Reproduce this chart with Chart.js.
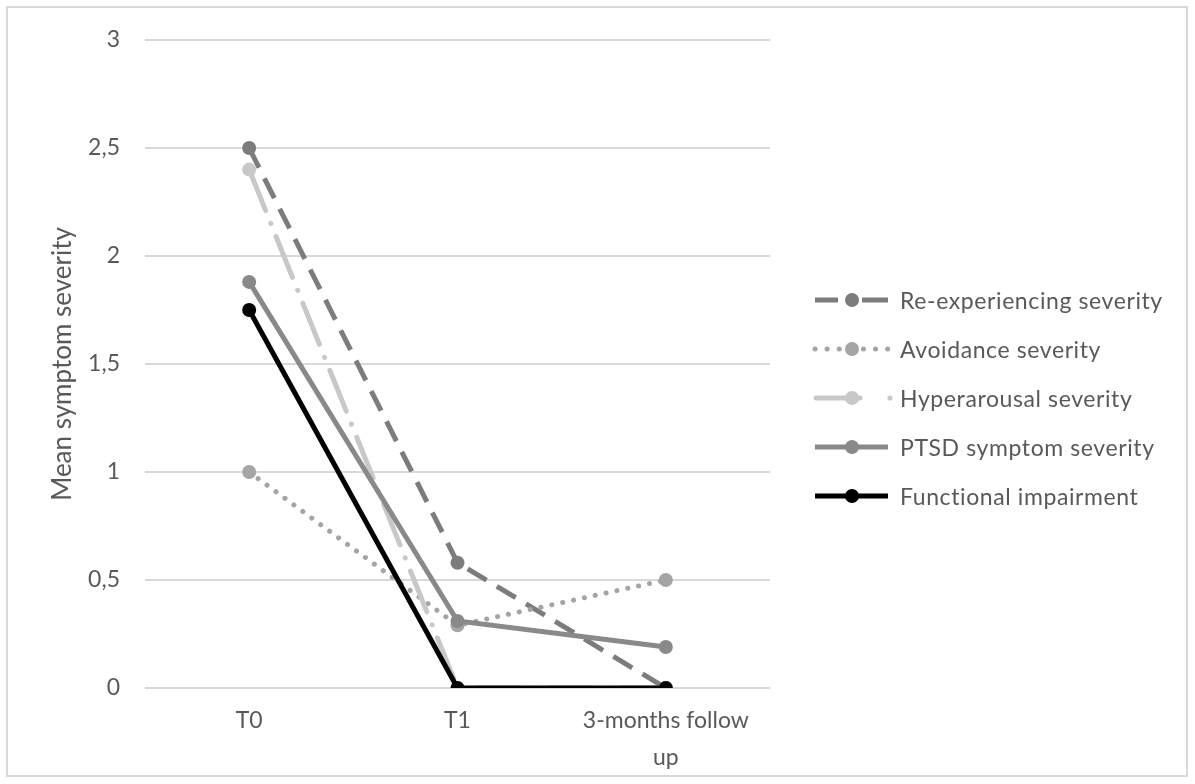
<!DOCTYPE html>
<html>
<head>
<meta charset="utf-8">
<script src="https://cdn.jsdelivr.net/npm/chart.js@4.4.1/dist/chart.umd.min.js"></script>
<style>
  html, body { margin: 0; padding: 0; background: #fff; }
  #wrap { position: relative; width: 1195px; height: 784px; }
  #frame { position: absolute; left: 6px; top: 6px; width: 1182px; height: 771px; border: 2px solid #d9d9d9; box-sizing: border-box; pointer-events: none; }
  #legend { position: absolute; left: 812px; top: 275px; font-family: Lato, "Liberation Sans", sans-serif; font-size: 23px; letter-spacing: 0.6px; color: #595959; white-space: nowrap; }
  .item { display: flex; align-items: center; height: 49px; }
  .item canvas { margin-right: 6px; }
</style>
</head>
<body>
<div id="wrap">
  <canvas id="c" width="1195" height="784"></canvas>
  <div id="frame"></div>
  <div id="legend"></div>
</div>
<script>
const categories = ["T0", "T1", ["3-months follow", "up"]];
const seriesNames = ["Re-experiencing severity", "Avoidance severity", "Hyperarousal severity", "PTSD symptom severity", "Functional impairment"];
const reExperiencing = [2.5, 0.58, 0];
const avoidance = [1.0, 0.29, 0.5];
const hyperarousal = [2.4, 0, 0];
const ptsd = [1.88, 0.31, 0.19];
const functional = [1.75, 0, 0];
const yTicks = [0, 0.5, 1, 1.5, 2, 2.5, 3];

const styles = [
  { color: "#7c7c7c", dash: [22, 12], cap: "butt" },
  { color: "#a5a5a5", dash: [0.1, 11], cap: "round" },
  { color: "#c8c8c8", dash: [44, 14, 0.1, 14], cap: "round" },
  { color: "#898989", dash: [], cap: "butt" },
  { color: "#000000", dash: [], cap: "butt" }
];
const values = [reExperiencing, avoidance, hyperarousal, ptsd, functional];
const orders = [4, 3, 2, 1, 0];

const datasets = values.map((v, i) => ({
  label: seriesNames[i],
  data: v,
  borderColor: styles[i].color,
  backgroundColor: styles[i].color,
  borderWidth: 5,
  borderDash: styles[i].dash,
  borderCapStyle: styles[i].cap,
  pointRadius: 7,
  pointHoverRadius: 7,
  pointBorderWidth: 0,
  pointBackgroundColor: styles[i].color,
  tension: 0,
  order: orders[i]
}));

const fam = "Lato, 'Liberation Sans', sans-serif";

new Chart(document.getElementById("c"), {
  type: "line",
  data: { labels: categories, datasets },
  options: {
    responsive: false,
    animation: false,
    layout: { padding: { left: 44, right: 425, top: 40, bottom: 0 } },
    plugins: { legend: { display: false }, tooltip: { enabled: false } },
    scales: {
      x: {
        offset: true,
        grid: { display: false, drawTicks: false },
        border: { display: false },
        ticks: { color: "#595959", font: { family: fam, size: 23, lineHeight: 1.6 }, padding: 14, maxRotation: 0, autoSkip: false },
        afterFit: (s) => { s.height = 96; }
      },
      y: {
        min: 0, max: 3,
        afterBuildTicks: (s) => { s.ticks = yTicks.map(v => ({ value: v })); },
        grid: { color: "#d9d9d9", lineWidth: 2, drawTicks: false },
        border: { display: false },
        ticks: { color: "#595959", font: { family: fam, size: 23 }, padding: 25, callback: (v) => String(v).replace(".", ",") },
        title: { display: true, text: "Mean symptom severity", color: "#595959", font: { family: fam, size: 26 }, padding: { top: 3, bottom: 0 } },
        afterFit: (s) => { s.width = 101; }
      }
    }
  }
});

// HTML legend
const leg = document.getElementById("legend");
seriesNames.forEach((name, i) => {
  const item = document.createElement("div");
  item.className = "item";
  const cv = document.createElement("canvas");
  cv.width = 82; cv.height = 20;
  const ctx = cv.getContext("2d");
  ctx.strokeStyle = styles[i].color;
  ctx.fillStyle = styles[i].color;
  ctx.lineWidth = 5;
  ctx.lineCap = styles[i].cap;
  if (i === 0) {
    ctx.beginPath(); ctx.moveTo(3, 10); ctx.lineTo(26, 10); ctx.moveTo(50, 10); ctx.lineTo(76, 10); ctx.stroke();
  } else if (i === 2) {
    ctx.beginPath(); ctx.moveTo(4, 10); ctx.lineTo(48, 10); ctx.stroke();
    ctx.beginPath(); ctx.arc(78, 10, 2.6, 0, Math.PI * 2); ctx.fill();
  } else {
    ctx.setLineDash(i === 1 ? [0.1, 12] : []);
    ctx.beginPath(); ctx.moveTo(3, 10); ctx.lineTo(i === 1 ? 80 : 76, 10); ctx.stroke();
    ctx.setLineDash([]);
  }
  ctx.beginPath(); ctx.arc(40, 10, 7, 0, Math.PI * 2); ctx.fill();
  const span = document.createElement("span");
  span.textContent = name;
  item.appendChild(cv); item.appendChild(span);
  leg.appendChild(item);
});
</script>
</body>
</html>
